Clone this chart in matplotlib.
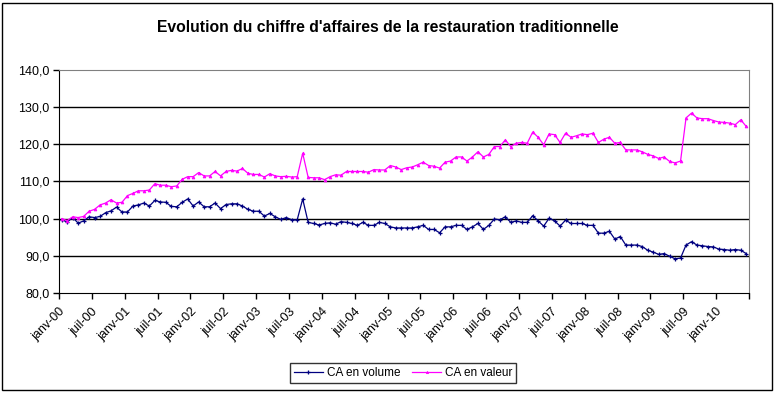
import numpy as np
import matplotlib
matplotlib.use("Agg")
import matplotlib.pyplot as plt
from matplotlib.patches import Rectangle

plt.rcParams['font.family'] = ['Liberation Sans', 'DejaVu Sans']

# Monthly index, janv-2000 .. juin-2010 (126 months)
ca_volume = [
    99.7, 99.1, 100.3, 98.8, 99.4, 100.5, 100.3, 100.6, 101.6, 102.1,
    103.1, 101.8, 101.8, 103.4, 103.7, 104.2, 103.4, 104.9, 104.5, 104.4,
    103.3, 103.2, 104.4, 105.3, 103.4, 104.5, 103.2, 103.2, 104.2, 102.7,
    103.8, 104.0, 104.0, 103.4, 102.5, 102.0, 102.0, 100.7, 101.4, 100.5,
    99.8, 100.3, 99.7, 99.7, 105.3, 99.0, 98.7, 98.3, 98.7, 98.9,
    98.5, 99.2, 99.0, 98.7, 98.2, 99.0, 98.2, 98.2, 99.0, 98.7,
    97.8, 97.5, 97.5, 97.5, 97.5, 97.8, 98.2, 97.1, 97.1, 96.2,
    97.8, 97.8, 98.2, 98.2, 97.1, 97.8, 98.7, 97.1, 98.2, 99.9,
    99.7, 100.5, 99.0, 99.4, 99.0, 99.0, 100.8, 99.4, 98.0, 100.1,
    99.4, 98.0, 99.6, 98.7, 98.7, 98.7, 98.2, 98.2, 96.1, 96.1,
    96.6, 94.5, 95.2, 92.9, 92.9, 92.9, 92.5, 91.5, 91.0, 90.4,
    90.6, 89.9, 89.2, 89.4, 92.9, 93.8, 92.9, 92.7, 92.5, 92.4,
    91.8, 91.7, 91.5, 91.7, 91.5, 90.6,
]
ca_valeur = [
    100.0, 99.5, 100.5, 100.3, 100.6, 102.0, 102.5, 103.7, 104.2, 105.1,
    104.2, 104.4, 106.2, 106.8, 107.5, 107.5, 107.7, 109.4, 109.0, 109.0,
    108.6, 108.8, 110.6, 111.3, 111.3, 112.4, 111.5, 111.5, 112.7, 111.5,
    112.7, 113.0, 112.8, 113.5, 112.2, 111.9, 111.9, 111.2, 112.1, 111.5,
    111.3, 111.4, 111.2, 111.3, 117.6, 111.1, 111.0, 111.0, 110.5, 111.3,
    111.8, 111.7, 112.7, 112.7, 112.7, 112.7, 112.5, 113.2, 113.1, 113.1,
    114.3, 113.9, 113.2, 113.7, 113.9, 114.5, 115.2, 114.3, 114.1, 113.6,
    115.2, 115.5, 116.6, 116.6, 115.5, 116.6, 118.0, 116.6, 117.3, 119.4,
    119.4, 121.2, 119.4, 120.3, 120.5, 120.3, 123.3, 121.9, 119.9, 122.8,
    122.6, 120.5, 123.0, 121.9, 122.3, 122.8, 122.6, 123.0, 120.5, 121.4,
    121.9, 120.3, 120.5, 118.5, 118.5, 118.5, 118.0, 117.3, 116.9, 116.2,
    116.6, 115.4, 115.0, 115.5, 127.1, 128.4, 127.1, 126.9, 126.9, 126.4,
    126.0, 125.9, 125.7, 125.3, 126.6, 124.8,
]
tick_labels = ['janv-00', 'juil-00', 'janv-01', 'juil-01', 'janv-02', 'juil-02',
               'janv-03', 'juil-03', 'janv-04', 'juil-04', 'janv-05', 'juil-05',
               'janv-06', 'juil-06', 'janv-07', 'juil-07', 'janv-08', 'juil-08',
               'janv-09', 'juil-09', 'janv-10']
y_ticks = [80, 90, 100, 110, 120, 130, 140]

W, H = 775, 394
fig = plt.figure(figsize=(W / 100, H / 100), dpi=100)
fig.patches.append(Rectangle((2 / W, 4 / H), 770 / W, 387 / H, transform=fig.transFigure,
                             fill=False, edgecolor='black', lw=1.0))
ax = fig.add_axes([59 / W, 1 - 293 / H, 690 / W, 223 / H])

x = np.arange(len(ca_volume))
ax.plot(x, ca_volume, color='#000080', lw=0.9, marker='+', ms=3, mew=0.9,
        label='CA en volume')
ax.plot(x, ca_valeur, color='#FF00FF', lw=0.9, marker='^', ms=2, mew=0.6,
        label='CA en valeur')

ax.set_xlim(-0.5, len(x) - 0.5)
ax.set_ylim(80, 140)
ax.set_yticks(y_ticks)
ax.set_yticklabels([f"{v:.1f}".replace('.', ',') for v in y_ticks], fontsize=9)
xt = np.arange(-0.5, len(x), 6)
ax.set_xticks(xt)
ax.set_xticklabels(tick_labels + [''] * (len(xt) - len(tick_labels)),
                   rotation=45, ha='right', rotation_mode='anchor', fontsize=9)
ax.tick_params(direction='out', length=4, width=1, color='black', pad=3)
ax.tick_params(axis='x', pad=5)

for v in y_ticks[1:-1]:
    ax.axhline(v, color='black', lw=1.0, zorder=0)
ax.spines['top'].set_color('#808080')
ax.spines['right'].set_color('#808080')
ax.spines['left'].set_color('black')
ax.spines['bottom'].set_color('black')

fig.text(0.5, 1 - 28 / H, "Evolution du chiffre d'affaires de la restauration traditionnelle",
         ha='center', va='center', fontsize=11.3, fontweight='bold')

leg = fig.legend(loc='center', bbox_to_anchor=(403 / W, 1 - 373 / H), ncol=2,
                 fontsize=8.5, frameon=True, fancybox=False, edgecolor='black',
                 handlelength=2.5, handletextpad=0.3, columnspacing=1.0,
                 borderpad=0.3, markerscale=0.8)
leg.get_frame().set_linewidth(1.0)

fig.savefig('out.png', dpi=100)
